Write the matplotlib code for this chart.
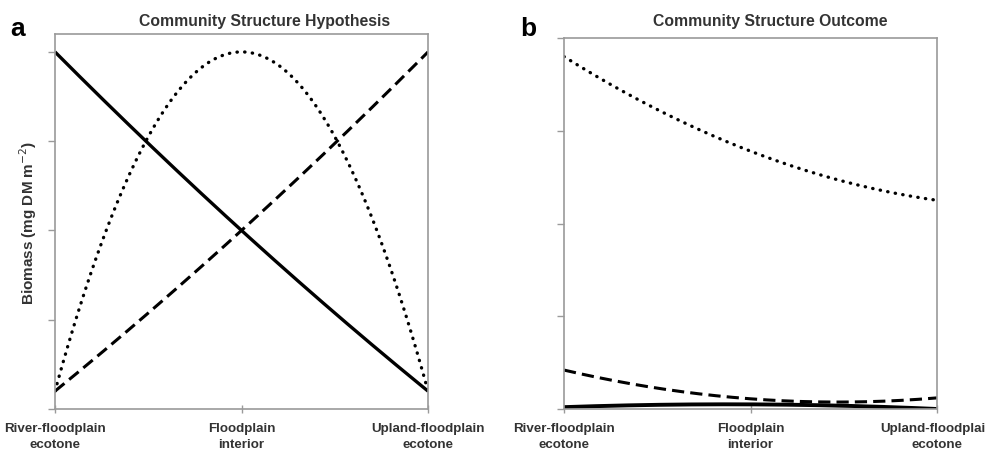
"""
Community structure along the floodplain gradient: hypothesis vs outcome.
Two panels, three taxa each (solid, dashed, dotted), smoothed through
three positions like the original spreadsheet chart.
"""

import numpy as np
import matplotlib
matplotlib.use("Agg")
import matplotlib.pyplot as plt

plt.rcParams["font.family"] = ["Liberation Sans", "DejaVu Sans"]

positions = [0, 1, 2]
position_labels = ["River-floodplain\necotone", "Floodplain\ninterior",
                   "Upland-floodplain\necotone"]

# panel a: hypothesis
hyp_solid = [4.0, 2.0, 0.2]
hyp_dashed = [0.2, 2.0, 4.0]
hyp_dotted = [0.2, 4.0, 0.2]

# panel b: outcome
out_solid = [0.02, 0.05, 0.0]
out_dashed = [0.42, 0.11, 0.12]
out_dotted = [3.8, 2.78, 2.25]

GREY = "#9a9a9a"
TEXT = "#333333"


def smooth(ys):
    # smoothed line through the three positions (quadratic through 3 points)
    coef = np.polyfit(positions, ys, 2)
    xs = np.linspace(positions[0], positions[-1], 200)
    return xs, np.polyval(coef, xs)


def draw(ax, solid, dashed, dotted, lw_solid):
    ax.plot(*smooth(solid), color="black", lw=lw_solid, solid_capstyle="butt")
    ax.plot(*smooth(dashed), color="black", lw=2.2, linestyle=(0, (4, 2)),
            dash_capstyle="butt")
    ax.plot(*smooth(dotted), color="black", lw=2.4, linestyle=(0, (0.1, 2.2)),
            dash_capstyle="round")


def style(ax, ymax, title, title_x, title_dy):
    ax.set_xlim(0, 2)
    ax.set_ylim(0, ymax)
    ax.set_yticks([0, 1, 2, 3, 4])
    ax.set_yticklabels([])
    ax.set_xticks(positions)
    ax.set_xticklabels(position_labels, fontsize=9.6, fontweight="bold",
                       color=TEXT, linespacing=1.45)
    for sp in ax.spines.values():
        sp.set_color(GREY)
        sp.set_linewidth(1.2)
    ax.tick_params(axis="y", direction="out", length=5, color=GREY, width=1)
    ax.tick_params(axis="x", direction="inout", length=6, color=GREY, width=1,
                   pad=6)
    ax.text(title_x, 1.0 + title_dy, title, transform=ax.transAxes,
            ha="center", va="center", fontsize=11.3, fontweight="bold",
            color=TEXT)


fig = plt.figure(figsize=(9.87, 4.52), dpi=100)
ax_a = fig.add_axes([0.0557, 0.0929, 0.378, 0.8296])
ax_b = fig.add_axes([0.5714, 0.0929, 0.378, 0.8208])

draw(ax_a, hyp_solid, hyp_dashed, hyp_dotted, 2.4)
draw(ax_b, out_solid, out_dashed, out_dotted, 2.8)

style(ax_a, 4.2, "Community Structure Hypothesis", 0.563, 14 / 375)
style(ax_b, 4.0, "Community Structure Outcome", 0.552, 18 / 371)

ax_a.set_ylabel("Biomass (mg DM m$^{-2}$)", fontsize=11, fontweight="bold",
                color=TEXT, labelpad=3)

fig.text(0.010, 0.935, "a", fontsize=19, fontweight="bold", va="center")
fig.text(0.527, 0.935, "b", fontsize=19, fontweight="bold", va="center")

fig.savefig("out.png", dpi=100)
